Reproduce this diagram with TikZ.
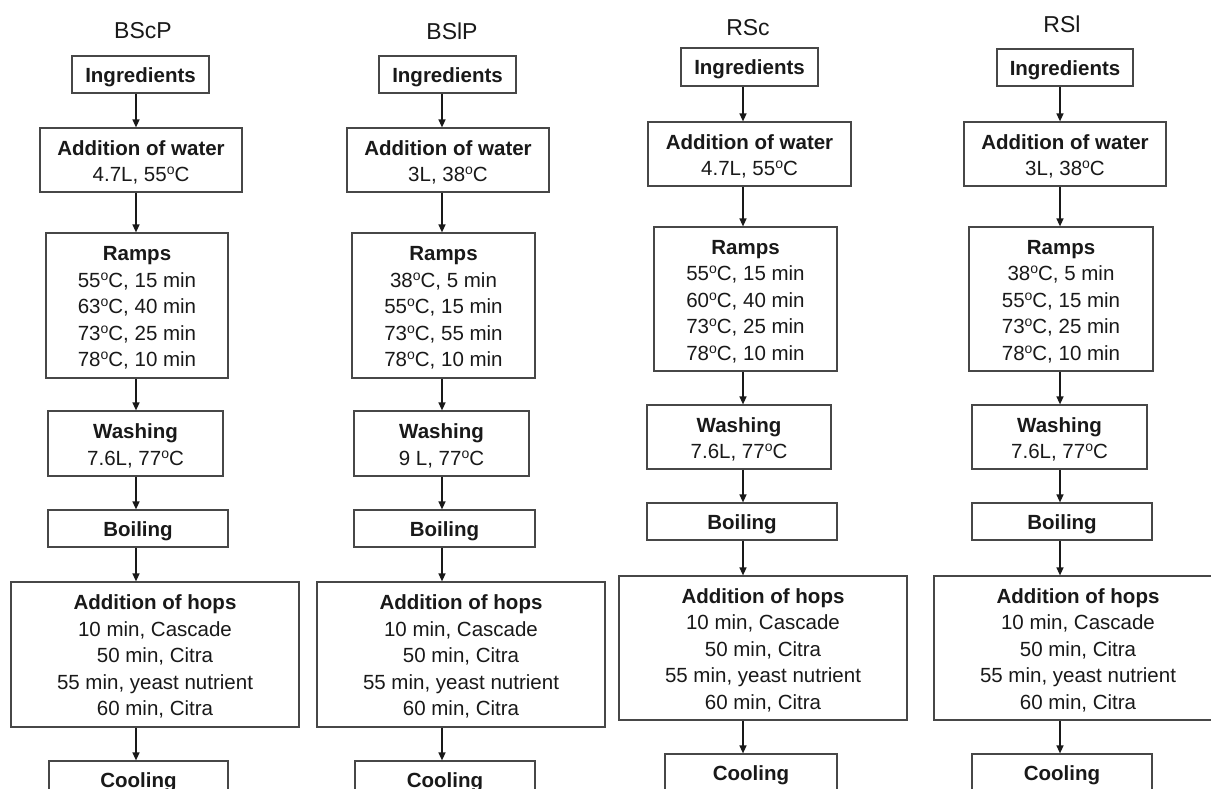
\documentclass[tikz,border=0pt]{standalone}
\usepackage{fontspec}
\setmainfont{Liberation Sans}
\usetikzlibrary{arrows.meta}
\newcommand{\dg}{\raisebox{7pt}{\fontsize{14}{14}\selectfont o}}
\newcommand{\hd}[1]{\rule{0pt}{19.5pt}\textbf{#1}}
\tikzset{
  box/.style={draw=black!72, line width=1.2pt, inner sep=0pt, align=center,
    font=\fontsize{20.5}{26.5}\selectfont, text=black!90},
  ttl/.style={font=\fontsize{23}{26}\selectfont, text=black!90, inner sep=0pt},
  arr/.style={draw=black!90, line width=1.4pt, -{Triangle[length=8pt,width=7pt]}},
}
\begin{document}
\begin{tikzpicture}[x=1pt,y=-1pt]
\useasboundingbox (0,0) rectangle (1211,789);
\clip (0,0) rectangle (1211,789);
\fill[white] (0,0) rectangle (1211,789);
% ---------------- Column 1: BScP
\node[ttl] (t1) at (143,31) {BScP};
\node[box, minimum width=137pt, minimum height=37pt] (i1) at (140.5,74.5) {\hd{Ingredients}};
\node[box, minimum width=202pt, minimum height=64pt] (w1) at (141,160) {\hd{Addition of water}\\4.7L, 55\dg C};
\node[box, minimum width=182pt, minimum height=145pt] (r1) at (137,305.5) {\hd{Ramps}\\55\dg C, 15 min\\63\dg C, 40 min\\73\dg C, 25 min\\78\dg C, 10 min};
\node[box, minimum width=175pt, minimum height=65pt] (s1) at (135.5,443.5) {\hd{Washing}\\7.6L, 77\dg C};
\node[box, minimum width=180pt, minimum height=37pt] (b1) at (138,528.5) {\hd{Boiling}};
\node[box, minimum width=288pt, minimum height=145pt] (h1) at (155,654.5) {\hd{Addition of hops}\\10 min, Cascade\\50 min, Citra\\55 min, yeast nutrient\\60 min, Citra};
\node[box, minimum width=179pt, minimum height=37pt] (c1) at (138.5,779.5) {\hd{Cooling}};
\coordinate (x1) at (136,0);
\foreach \a/\b in {i1/w1, w1/r1, r1/s1, s1/b1, b1/h1, h1/c1}
  \draw[arr] (\a.south -| x1) -- (\b.north -| x1);
% ---------------- Column 2: BSlP
\node[ttl] (t2) at (452,31) {BSlP};
\node[box, minimum width=137pt, minimum height=37pt] (i2) at (447.5,74.5) {\hd{Ingredients}};
\node[box, minimum width=202pt, minimum height=64pt] (w2) at (448,160) {\hd{Addition of water}\\3L, 38\dg C};
\node[box, minimum width=183pt, minimum height=145pt] (r2) at (443.5,305.5) {\hd{Ramps}\\38\dg C, 5 min\\55\dg C, 15 min\\73\dg C, 55 min\\78\dg C, 10 min};
\node[box, minimum width=175pt, minimum height=65pt] (s2) at (441.5,443.5) {\hd{Washing}\\9 L, 77\dg C};
\node[box, minimum width=181pt, minimum height=37pt] (b2) at (444.5,528.5) {\hd{Boiling}};
\node[box, minimum width=288pt, minimum height=145pt] (h2) at (461,654.5) {\hd{Addition of hops}\\10 min, Cascade\\50 min, Citra\\55 min, yeast nutrient\\60 min, Citra};
\node[box, minimum width=180pt, minimum height=37pt] (c2) at (445,779.5) {\hd{Cooling}};
\coordinate (x2) at (442,0);
\foreach \a/\b in {i2/w2, w2/r2, r2/s2, s2/b2, b2/h2, h2/c2}
  \draw[arr] (\a.south -| x2) -- (\b.north -| x2);
% ---------------- Column 3: RSc
\node[ttl] (t3) at (748,27.5) {RSc};
\node[box, minimum width=137pt, minimum height=38pt] (i3) at (749.5,67) {\hd{Ingredients}};
\node[box, minimum width=203pt, minimum height=64pt] (w3) at (749.5,154) {\hd{Addition of water}\\4.7L, 55\dg C};
\node[box, minimum width=183pt, minimum height=144pt] (r3) at (745.5,299) {\hd{Ramps}\\55\dg C, 15 min\\60\dg C, 40 min\\73\dg C, 25 min\\78\dg C, 10 min};
\node[box, minimum width=184pt, minimum height=64pt] (s3) at (739,437) {\hd{Washing}\\7.6L, 77\dg C};
\node[box, minimum width=190pt, minimum height=37pt] (b3) at (742,521.5) {\hd{Boiling}};
\node[box, minimum width=288pt, minimum height=144pt] (h3) at (763,648) {\hd{Addition of hops}\\10 min, Cascade\\50 min, Citra\\55 min, yeast nutrient\\60 min, Citra};
\node[box, minimum width=172pt, minimum height=37pt] (c3) at (751,772.5) {\hd{Cooling}};
\coordinate (x3) at (743,0);
\foreach \a/\b in {i3/w3, w3/r3, r3/s3, s3/b3, b3/h3, h3/c3}
  \draw[arr] (\a.south -| x3) -- (\b.north -| x3);
% ---------------- Column 4: RSl
\node[ttl] (t4) at (1062,24) {RSl};
\node[box, minimum width=136pt, minimum height=37pt] (i4) at (1065,67.5) {\hd{Ingredients}};
\node[box, minimum width=202pt, minimum height=64pt] (w4) at (1065,154) {\hd{Addition of water}\\3L, 38\dg C};
\node[box, minimum width=184pt, minimum height=144pt] (r4) at (1061,299) {\hd{Ramps}\\38\dg C, 5 min\\55\dg C, 15 min\\73\dg C, 25 min\\78\dg C, 10 min};
\node[box, minimum width=175pt, minimum height=64pt] (s4) at (1059.5,437) {\hd{Washing}\\7.6L, 77\dg C};
\node[box, minimum width=180pt, minimum height=37pt] (b4) at (1062,521.5) {\hd{Boiling}};
\node[box, minimum width=288pt, minimum height=144pt] (h4) at (1078,648) {\hd{Addition of hops}\\10 min, Cascade\\50 min, Citra\\55 min, yeast nutrient\\60 min, Citra};
\node[box, minimum width=180pt, minimum height=37pt] (c4) at (1062,772.5) {\hd{Cooling}};
\coordinate (x4) at (1060,0);
\foreach \a/\b in {i4/w4, w4/r4, r4/s4, s4/b4, b4/h4, h4/c4}
  \draw[arr] (\a.south -| x4) -- (\b.north -| x4);
\end{tikzpicture}
\end{document}
